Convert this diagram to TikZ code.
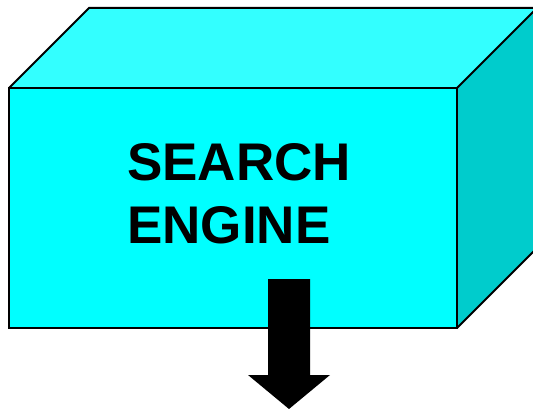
\documentclass[tikz,border=0pt]{standalone}
\usepackage{fontspec}
\setmainfont{Liberation Sans}
\begin{document}
\begin{tikzpicture}[x=1pt,y=-1pt,
  face/.style={draw=black,line width=2pt,line join=miter},
  lbl/.style={font=\fontsize{53}{63}\selectfont\bfseries,anchor=base west,inner sep=0pt}]
\useasboundingbox (0,0) rectangle (533,409);
\clip (0,0) rectangle (533,409);
% corners
\coordinate (fl) at (9,88);
\coordinate (fr) at (457,88);
\coordinate (br) at (457,328);
\coordinate (bl) at (9,328);
\coordinate (tl) at (89,8);
\coordinate (tr) at (537,8);
\coordinate (rb) at (537,248);
% top face
\fill[fill={rgb,255:red,51;green,255;blue,255}] (fl) -- (tl) -- (tr) -- (fr) -- cycle;
% right face
\fill[fill={rgb,255:red,0;green,204;blue,204}] (fr) -- (tr) -- (rb) -- (br) -- cycle;
% front face
\fill[fill={rgb,255:red,0;green,255;blue,255}] (fl) rectangle (br);
\draw[face] (fl) -- (tl) -- (tr);
\draw[face] (fr) -- (tr);
\draw[face] (br) -- (rb);
\draw[face] (fl) rectangle (br);
% text
\node[lbl] (t1) at (127,180) {SEARCH};
\node[lbl] (t2) at (127,243) {ENGINE};
% arrow
\fill[black] (268,279) -- (310,279) -- (310,375) -- (330,375) -- (289,409) -- (248,375) -- (268,375) -- cycle;
\end{tikzpicture}
\end{document}
